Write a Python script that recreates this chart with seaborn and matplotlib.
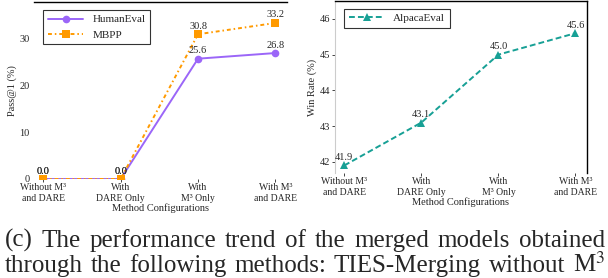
import matplotlib
matplotlib.use('Agg')
import matplotlib.pyplot as plt
import pandas as pd
import seaborn as sns

# data
configs = ['Without M³\nand DARE', 'With\nDARE Only', 'With\nM³ Only', 'With M³\nand DARE']
humaneval = [0.0, 0.0, 25.6, 26.8]
mbpp = [0.0, 0.0, 30.8, 33.2]
alpacaeval = [41.9, 43.1, 45.0, 45.6]
caption_lines = ['(c) The performance trend of the merged models obtained',
                 'through the following methods: TIES-Merging without M$^3$']

sns.set_style('white')
plt.rcParams['font.family'] = ['Liberation Serif', 'DejaVu Serif']
plt.rcParams['mathtext.fontset'] = 'stix'

purple = '#9b66f8'
orange = '#ff9a00'
teal = '#17a095'

x = list(range(len(configs)))
df_code = pd.DataFrame({'x': x * 2,
                        'score': humaneval + mbpp,
                        'bench': ['HumanEval'] * 4 + ['MBPP'] * 4})
df_alp = pd.DataFrame({'x': x, 'score': alpacaeval, 'bench': 'AlpacaEval'})

fig = plt.figure(figsize=(6.08, 2.78), dpi=100)
ax1 = fig.add_axes([34 / 608, 1 - 179 / 278, 253 / 608, 177 / 278])
ax2 = fig.add_axes([335 / 608, 1 - 173 / 278, 252 / 608, 172 / 278])

sns.lineplot(data=df_code, x='x', y='score', hue='bench', style='bench',
             palette=[purple, orange], markers=['o', 's'],
             dashes=['', (2, 1.5, 0.8, 1.5)], markersize=5.5, linewidth=1.4,
             markeredgewidth=0, ax=ax1)
sns.lineplot(data=df_alp, x='x', y='score', hue='bench', style='bench',
             palette=[teal], markers=['^'], dashes=[(3, 1.6)],
             markersize=6, linewidth=1.4, markeredgewidth=0, ax=ax2)

for vals in (humaneval, mbpp):
    for i, v in enumerate(vals):
        ax1.annotate(f'{v:.1f}', (i, v), xytext=(0, 2.5), textcoords='offset points',
                     ha='center', va='bottom', fontsize=7.5)
for i, v in enumerate(alpacaeval):
    ax2.annotate(f'{v:.1f}', (i, v), xytext=(0, 2.5), textcoords='offset points',
                 ha='center', va='bottom', fontsize=7.5)

ax1.set_ylim(0, 37.66)
ax1.set_yticks([0, 10, 20, 30])
ax2.set_ylim(41.69, 46.5)
ax2.set_yticks([42, 43, 44, 45, 46])

for ax, ylab in ((ax1, 'Pass@1 (%)'), (ax2, 'Win Rate (%)')):
    ax.set_xlim(-0.12, 3.15)
    ax.set_xticks(x)
    ax.set_xticklabels(configs, fontsize=7, linespacing=1.3)
    ax.set_xlabel('Method Configurations', fontsize=7.5, labelpad=0)
    ax.set_ylabel(ylab, fontsize=7.5, labelpad=2)
    ax.tick_params(axis='y', labelsize=7.5, length=2.5, width=0.6, pad=1, left=True)
    ax.tick_params(axis='x', length=2, width=0.6, pad=1, bottom=True)
    ax.legend(fontsize=8, loc='upper left', frameon=True, fancybox=False,
              edgecolor='black', handlelength=3.2, borderpad=0.4,
              bbox_to_anchor=(0.015, 0.985)).get_frame().set_linewidth(0.8)
ax1.tick_params(axis='y', length=0, pad=3)

for s in ['left', 'right', 'bottom']:
    ax1.spines[s].set_visible(False)
ax1.spines['top'].set_color('black')
ax1.spines['top'].set_linewidth(1.0)
ax2.spines['bottom'].set_visible(False)
ax2.spines['left'].set_color('#cccccc')
ax2.spines['left'].set_linewidth(0.8)
for s in ['top', 'right']:
    ax2.spines[s].set_color('black')
    ax2.spines[s].set_linewidth(1.0)

# justified caption
renderer = fig.canvas.get_renderer()
left_px, right_px = 5, 605
for line, base in zip(caption_lines, (247, 272)):
    words = line.split(' ')
    texts = [fig.text(0, 1 - base / 278, w, fontsize=18, ha='left', va='baseline')
             for w in words]
    widths = [t.get_window_extent(renderer).width for t in texts]
    gap = (right_px - left_px - sum(widths)) / (len(words) - 1)
    pos = left_px
    for t, w in zip(texts, widths):
        t.set_x(pos / 608)
        pos += w + gap

plt.savefig('out.png', dpi=100)
